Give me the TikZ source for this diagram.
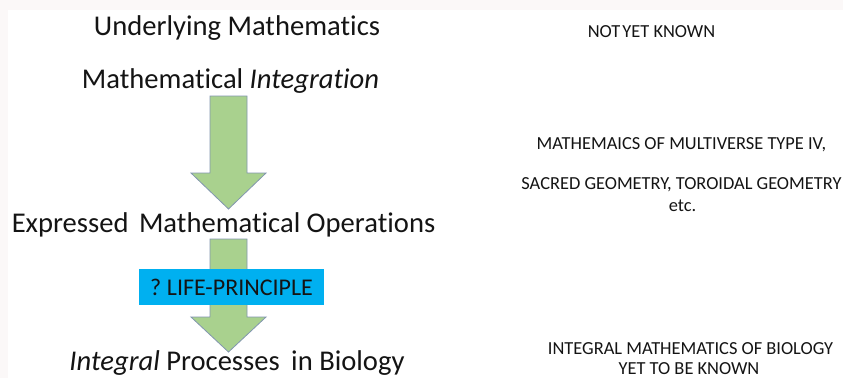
\documentclass[tikz,border=0pt]{standalone}
\usepackage{fontspec}
\setmainfont[Ligatures=NoCommon]{Carlito}
\definecolor{offwhite}{RGB}{251,248,248}
\definecolor{arrowgreen}{RGB}{169,209,142}
\definecolor{arrowline}{RGB}{130,150,175}
\definecolor{lifecyan}{RGB}{0,176,240}
\definecolor{txt}{RGB}{20,20,20}
\begin{document}
\begin{tikzpicture}[x=1pt,y=-1pt,
  bigtext/.style={font=\fontsize{28.6}{34}\selectfont, inner sep=0pt, anchor=base, text=txt},
  smalltext/.style={font=\fontsize{18.4}{22}\selectfont, inner sep=0pt, anchor=base, text=txt},
  blockarrow/.style={fill=arrowgreen, draw=arrowline, line width=0.8pt, line join=miter},
  lifebox/.style={fill=lifecyan, inner sep=0pt, minimum width=185pt, minimum height=36pt,
    font=\fontsize{24}{28}\selectfont, text=txt}]
\useasboundingbox (0,0) rectangle (843,378);
\fill[offwhite] (0,0) rectangle (843,378);
\fill[white] (8,10) rectangle (843,378);

% left column texts
\node[bigtext] (um) at (237,35) {Underlying Mathematics};
\node[bigtext] (mi) at (230.5,88) {Mathematical \textit{Integration}};
\node[bigtext] (emo) at (223.5,232) {Expressed\hspace{4pt} Mathematical Operations};
\node[bigtext] (ipb) at (237,370) {\textit{Integral} Processes\hspace{5pt} in Biology};

% block arrows
\coordinate (a1) at (228.5,96);
\coordinate (a2) at (228.5,239);
\draw[blockarrow] ([xshift=-18.5pt]a1) -- ([xshift=18.5pt]a1) -- ([xshift=18.5pt,yshift=-77pt]a1)
  -- ([xshift=37.5pt,yshift=-77pt]a1) -- ([yshift=-113pt]a1) -- ([xshift=-37.5pt,yshift=-77pt]a1)
  -- ([xshift=-18.5pt,yshift=-77pt]a1) -- cycle;
\draw[blockarrow] ([xshift=-18.5pt]a2) -- ([xshift=18.5pt]a2) -- ([xshift=18.5pt,yshift=-78pt]a2)
  -- ([xshift=37.5pt,yshift=-78pt]a2) -- ([yshift=-113pt]a2) -- ([xshift=-37.5pt,yshift=-78pt]a2)
  -- ([xshift=-18.5pt,yshift=-78pt]a2) -- cycle;

\node[lifebox] (lp) at (231.5,287) {?\hspace{-1.5pt} LIFE-PRINCIPLE};

% right column texts
\node[smalltext] (nyk) at (651.5,37) {NOT\hspace{-2pt} YET KNOWN};
\node[smalltext] (mm) at (681.5,149) {MATHEMAICS OF MULTIVERSE TYPE IV,};
\node[smalltext] (sg) at (681.5,189) {SACRED GEOMETRY, TOROIDAL GEOMETRY};
\node[smalltext] (etc) at (682.5,211) {etc.};
\node[smalltext] (imb) at (690.5,354.5) {INTEGRAL MATHEMATICS OF BIOLOGY};
\node[smalltext] (ytk) at (689,374.5) {YET TO BE KNOWN};
\end{tikzpicture}
\end{document}
